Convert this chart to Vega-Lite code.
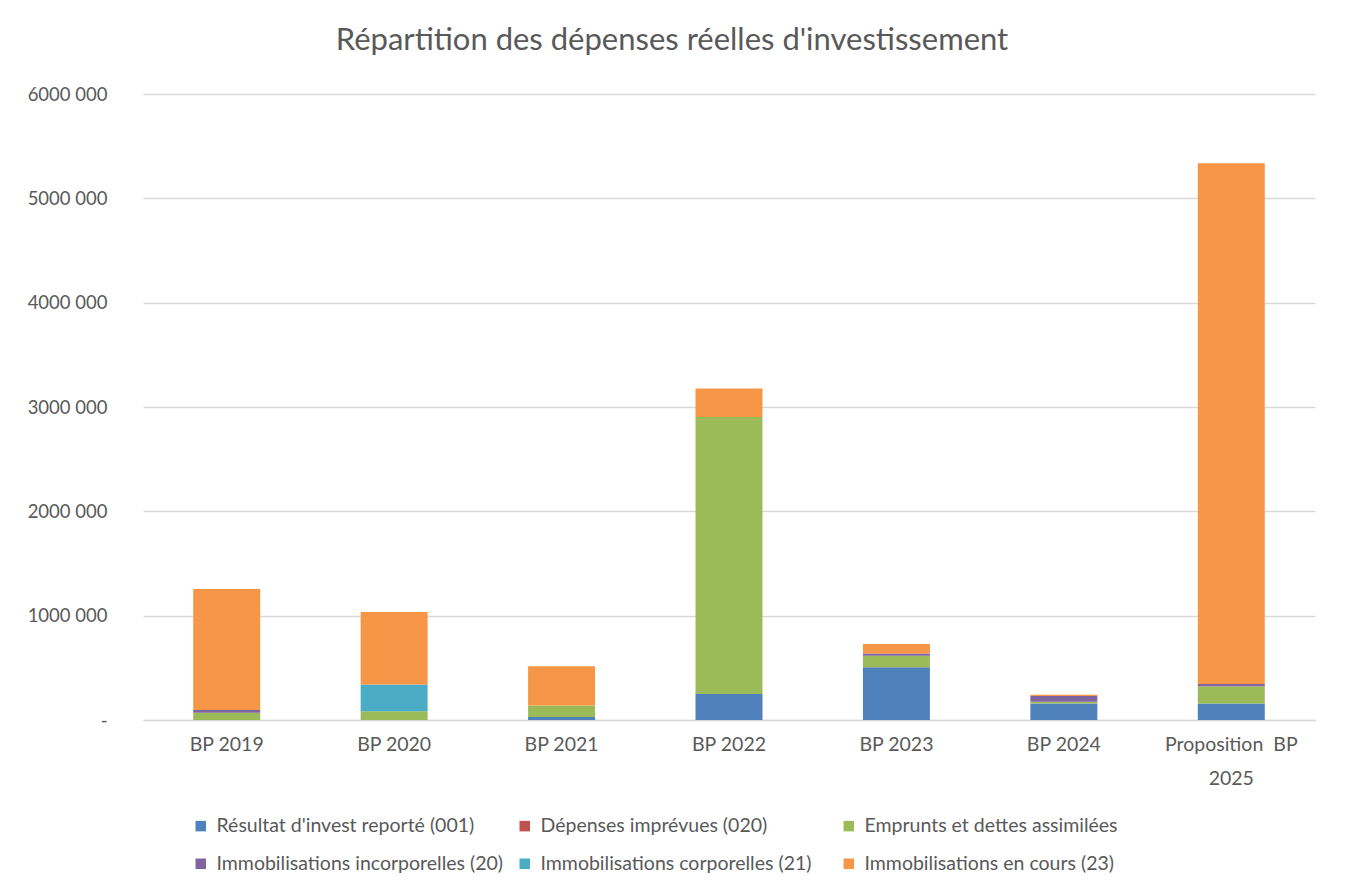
{
  "$schema": "https://vega.github.io/schema/vega-lite/v6.json",
  "autosize": "none",
  "width": 1172,
  "height": 626,
  "padding": {"left": 143, "top": 94, "right": 30, "bottom": 170},
  "background": "white",
  "title": {
    "text": "Répartition des dépenses réelles d'investissement",
    "anchor": "middle",
    "frame": "group",
    "dx": -57,
    "offset": 28,
    "font": "Lato",
    "fontSize": 31,
    "fontWeight": "normal",
    "color": "#595959"
  },
  "data": {
    "values": [
      {"annee": "BP 2019", "chapitre": "001", "poste": "Résultat d'invest reporté (001)", "montant": 0},
      {"annee": "BP 2019", "chapitre": "020", "poste": "Dépenses imprévues (020)", "montant": 0},
      {"annee": "BP 2019", "chapitre": "16", "poste": "Emprunts et dettes assimilées", "montant": 70000},
      {"annee": "BP 2019", "chapitre": "20", "poste": "Immobilisations incorporelles (20)", "montant": 25000},
      {"annee": "BP 2019", "chapitre": "21", "poste": "Immobilisations corporelles (21)", "montant": 0},
      {"annee": "BP 2019", "chapitre": "23", "poste": "Immobilisations en cours (23)", "montant": 1160000},
      {"annee": "BP 2020", "chapitre": "001", "poste": "Résultat d'invest reporté (001)", "montant": 0},
      {"annee": "BP 2020", "chapitre": "020", "poste": "Dépenses imprévues (020)", "montant": 0},
      {"annee": "BP 2020", "chapitre": "16", "poste": "Emprunts et dettes assimilées", "montant": 85000},
      {"annee": "BP 2020", "chapitre": "20", "poste": "Immobilisations incorporelles (20)", "montant": 0},
      {"annee": "BP 2020", "chapitre": "21", "poste": "Immobilisations corporelles (21)", "montant": 255000},
      {"annee": "BP 2020", "chapitre": "23", "poste": "Immobilisations en cours (23)", "montant": 695000},
      {"annee": "BP 2021", "chapitre": "001", "poste": "Résultat d'invest reporté (001)", "montant": 28000},
      {"annee": "BP 2021", "chapitre": "020", "poste": "Dépenses imprévues (020)", "montant": 0},
      {"annee": "BP 2021", "chapitre": "16", "poste": "Emprunts et dettes assimilées", "montant": 110000},
      {"annee": "BP 2021", "chapitre": "20", "poste": "Immobilisations incorporelles (20)", "montant": 0},
      {"annee": "BP 2021", "chapitre": "21", "poste": "Immobilisations corporelles (21)", "montant": 0},
      {"annee": "BP 2021", "chapitre": "23", "poste": "Immobilisations en cours (23)", "montant": 377000},
      {"annee": "BP 2022", "chapitre": "001", "poste": "Résultat d'invest reporté (001)", "montant": 250000},
      {"annee": "BP 2022", "chapitre": "020", "poste": "Dépenses imprévues (020)", "montant": 0},
      {"annee": "BP 2022", "chapitre": "16", "poste": "Emprunts et dettes assimilées", "montant": 2655000},
      {"annee": "BP 2022", "chapitre": "20", "poste": "Immobilisations incorporelles (20)", "montant": 0},
      {"annee": "BP 2022", "chapitre": "21", "poste": "Immobilisations corporelles (21)", "montant": 0},
      {"annee": "BP 2022", "chapitre": "23", "poste": "Immobilisations en cours (23)", "montant": 272000},
      {"annee": "BP 2023", "chapitre": "001", "poste": "Résultat d'invest reporté (001)", "montant": 505000},
      {"annee": "BP 2023", "chapitre": "020", "poste": "Dépenses imprévues (020)", "montant": 0},
      {"annee": "BP 2023", "chapitre": "16", "poste": "Emprunts et dettes assimilées", "montant": 111000},
      {"annee": "BP 2023", "chapitre": "20", "poste": "Immobilisations incorporelles (20)", "montant": 22000},
      {"annee": "BP 2023", "chapitre": "21", "poste": "Immobilisations corporelles (21)", "montant": 0},
      {"annee": "BP 2023", "chapitre": "23", "poste": "Immobilisations en cours (23)", "montant": 90000},
      {"annee": "BP 2024", "chapitre": "001", "poste": "Résultat d'invest reporté (001)", "montant": 158000},
      {"annee": "BP 2024", "chapitre": "020", "poste": "Dépenses imprévues (020)", "montant": 0},
      {"annee": "BP 2024", "chapitre": "16", "poste": "Emprunts et dettes assimilées", "montant": 16000},
      {"annee": "BP 2024", "chapitre": "20", "poste": "Immobilisations incorporelles (20)", "montant": 55000},
      {"annee": "BP 2024", "chapitre": "21", "poste": "Immobilisations corporelles (21)", "montant": 0},
      {"annee": "BP 2024", "chapitre": "23", "poste": "Immobilisations en cours (23)", "montant": 13000},
      {"annee": "Proposition BP 2025", "chapitre": "001", "poste": "Résultat d'invest reporté (001)", "montant": 158000},
      {"annee": "Proposition BP 2025", "chapitre": "020", "poste": "Dépenses imprévues (020)", "montant": 0},
      {"annee": "Proposition BP 2025", "chapitre": "16", "poste": "Emprunts et dettes assimilées", "montant": 166000},
      {"annee": "Proposition BP 2025", "chapitre": "20", "poste": "Immobilisations incorporelles (20)", "montant": 22000},
      {"annee": "Proposition BP 2025", "chapitre": "21", "poste": "Immobilisations corporelles (21)", "montant": 0},
      {"annee": "Proposition BP 2025", "chapitre": "23", "poste": "Immobilisations en cours (23)", "montant": 4990000}
    ]
  },
  "mark": {"type": "bar"},
  "encoding": {
    "x": {
      "field": "annee",
      "type": "nominal",
      "sort": null,
      "scale": {"paddingInner": 0.6, "paddingOuter": 0.3},
      "axis": {
        "title": null,
        "labelAngle": 0,
        "ticks": false,
        "domainColor": "#d9d9d9",
        "domainWidth": 1.5,
        "labelPadding": 15,
        "labelFont": "Lato",
        "labelFontSize": 19.5,
        "labelColor": "#595959",
        "labelLineHeight": 34,
        "labelExpr": "datum.label == 'Proposition BP 2025' ? ['Proposition\u00a0\u00a0BP', '2025'] : datum.label"
      }
    },
    "y": {
      "field": "montant",
      "type": "quantitative",
      "stack": "zero",
      "scale": {"domain": [0, 6000000], "nice": false},
      "axis": {
        "title": null,
        "values": [0, 1000000, 2000000, 3000000, 4000000, 5000000, 6000000],
        "ticks": false,
        "domain": false,
        "gridColor": "#d9d9d9",
        "gridWidth": 1.5,
        "labelPadding": 36,
        "labelFont": "Lato",
        "labelFontSize": 18.5,
        "labelColor": "#595959",
        "labelExpr": "datum.value == 0 ? '-\u00a0\u00a0\u00a0' : (datum.value / 1000) + ' 000'"
      }
    },
    "color": {
      "field": "poste",
      "type": "nominal",
      "scale": {
        "domain": [
          "Résultat d'invest reporté (001)",
          "Dépenses imprévues (020)",
          "Emprunts et dettes assimilées",
          "Immobilisations incorporelles (20)",
          "Immobilisations corporelles (21)",
          "Immobilisations en cours (23)"
        ],
        "range": ["#4f81bd", "#c0504d", "#9bbb59", "#8064a2", "#4bacc6", "#f79646"]
      },
      "legend": {
        "title": null,
        "orient": "none",
        "legendX": 48,
        "legendY": 722,
        "direction": "horizontal",
        "columns": 3,
        "gridAlign": "all",
        "columnPadding": 11,
        "rowPadding": 17,
        "symbolType": "square",
        "symbolSize": 110,
        "symbolStrokeWidth": 0,
        "labelOffset": 6,
        "labelFont": "Lato",
        "labelFontSize": 19.5,
        "labelColor": "#595959",
        "labelLimit": 400
      }
    },
    "order": {"field": "chapitre", "sort": "ascending"}
  },
  "config": {
    "view": {"stroke": null}
  }
}
